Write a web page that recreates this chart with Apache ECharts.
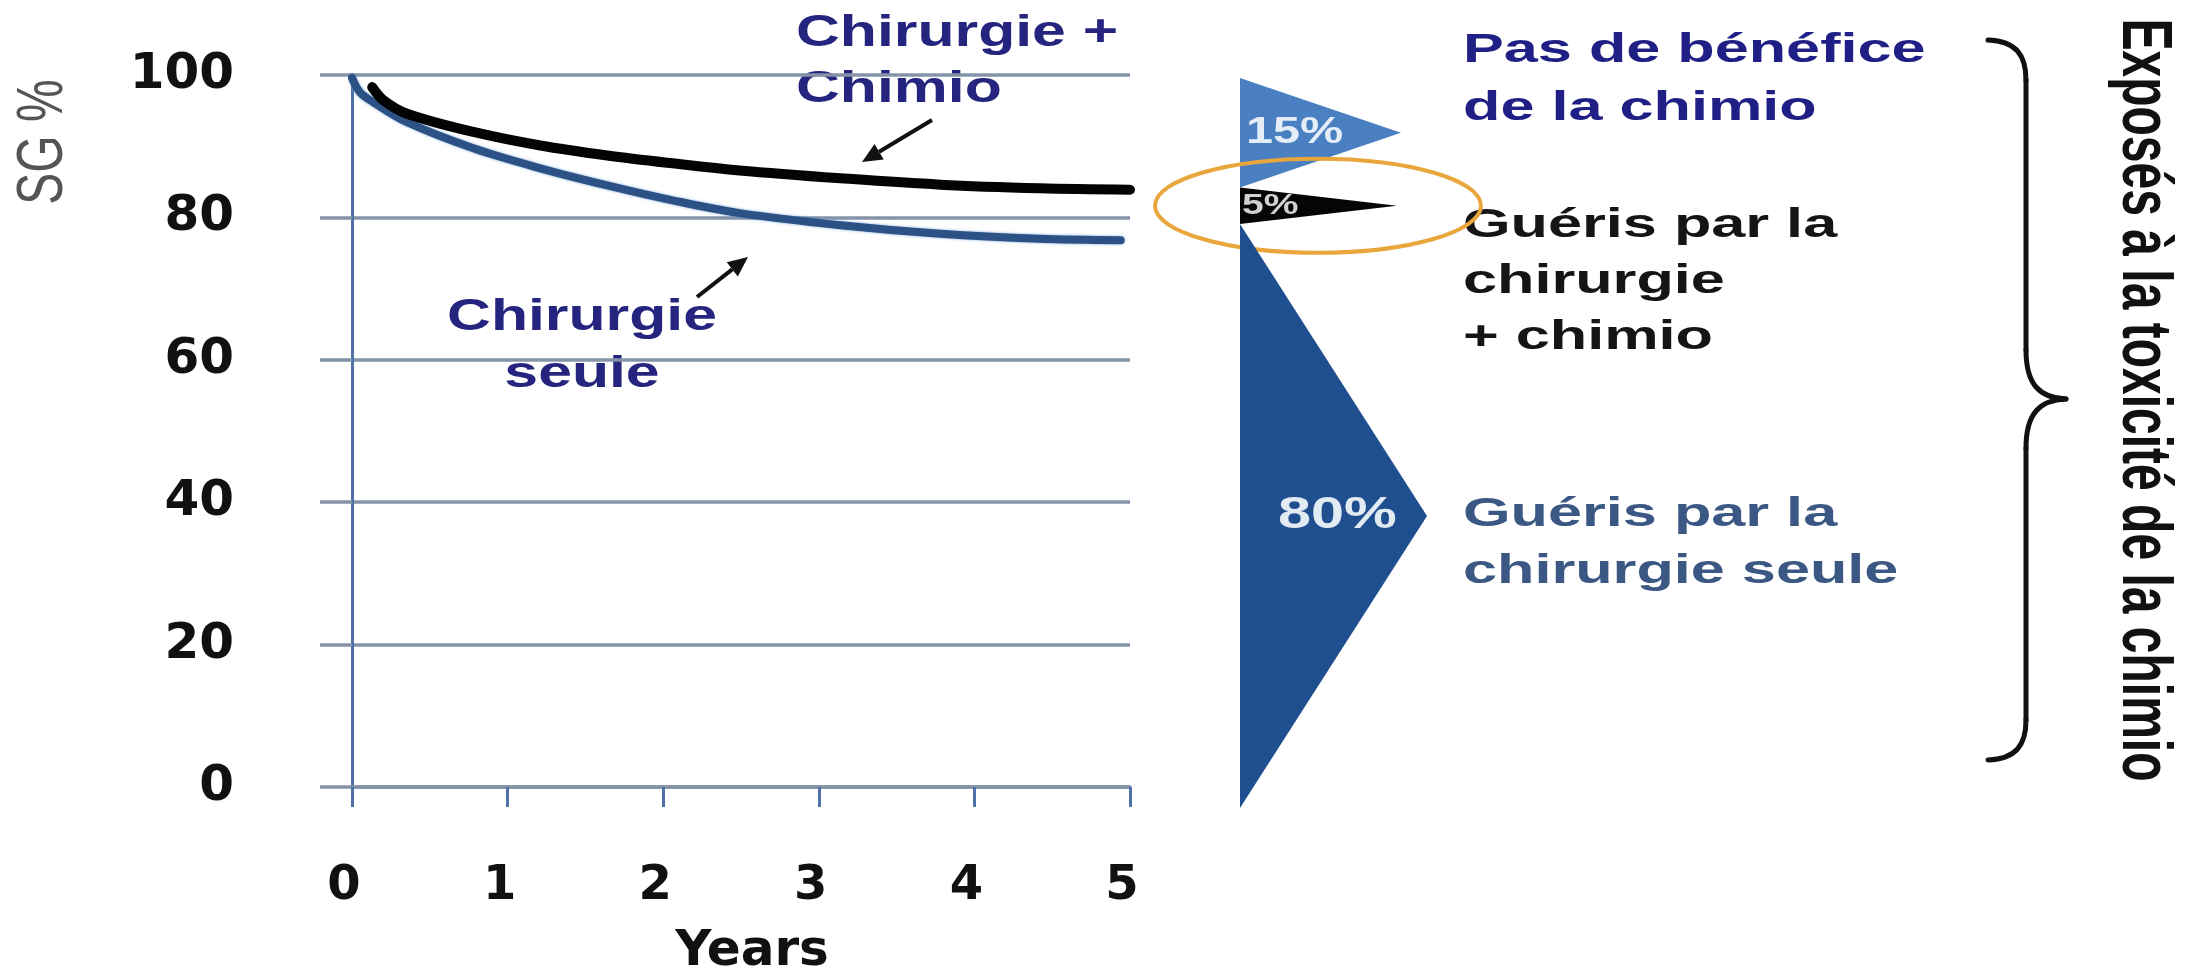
<!DOCTYPE html>
<html>
<head>
<meta charset="utf-8">
<script src="https://cdn.jsdelivr.net/npm/echarts@6/dist/echarts.min.js"></script>
<style>
  html, body { margin: 0; padding: 0; background: #fff; }
  #main { width: 2194px; height: 970px; }
</style>
</head>
<body>
<div id="main"></div>
<script>
var yearsChimio = [0.13, 0.2, 0.35, 0.78, 1.21, 1.64, 2.06, 2.49, 3.14, 3.78, 4.42, 5.0];
var sgChimio    = [98.3, 96.5, 94.6, 92.0, 90.1, 88.7, 87.6, 86.6, 85.5, 84.6, 84.1, 83.9];
var yearsSeule  = [0, 0.05, 0.135, 0.35, 0.78, 1.21, 1.64, 2.06, 2.49, 3.14, 3.78, 4.42, 4.94];
var sgSeule     = [99.6, 97.6, 96.2, 93.4, 89.7, 86.9, 84.5, 82.4, 80.6, 78.9, 77.7, 77.0, 76.8];
var sgTicks   = [0, 20, 40, 60, 80, 100];
var yearTicks = [0, 1, 2, 3, 4, 5];

// répartition des patients
var groups = ['Pas de bénéfice de la chimio', 'Guéris par la chirurgie + chimio', 'Guéris par la chirurgie seule'];
var shares = [15, 5, 80];
var highlighted = 1; // entouré en orange

var chart = echarts.init(document.getElementById('main'));

function pairs(xs, ys) {
  return xs.map(function (x, i) { return [x, ys[i]]; });
}

var shareData = [];
var acc = 0;
shares.forEach(function (v, i) {
  shareData.push([acc, acc + v, v, i]);
  acc += v;
});

var triColors = ['#4a80c2', '#050505', '#1f4f8e'];
var pctColors = ['#e4edf8', '#d0d0d0', '#e2ebf4'];
var pctSize = [36, 29, 44];
var pctDx = [6, 2, 38];

function txt(text, x, y, size, color, sx, align, weight) {
  return {
    type: 'text', x: x, y: y, scaleX: sx,
    style: {
      text: text, fill: color,
      font: (weight || 'bold') + ' ' + size + 'px "Liberation Sans", Arial, sans-serif',
      align: align || 'left', verticalAlign: 'middle',
      textAlign: align || 'left', textVerticalAlign: 'middle'
    }
  };
}

function arrow(x1, y1, x2, y2) {
  var dx = x2 - x1, dy = y2 - y1, L = Math.sqrt(dx * dx + dy * dy);
  var ux = dx / L, uy = dy / L, hl = 20, hw = 9;
  var bx = x2 - ux * hl, by = y2 - uy * hl;
  return [
    { type: 'line', shape: { x1: x1, y1: y1, x2: bx, y2: by }, style: { stroke: '#111', lineWidth: 4 } },
    { type: 'polygon', shape: { points: [[x2, y2], [bx - uy * hw, by + ux * hw], [bx + uy * hw, by - ux * hw]] }, style: { fill: '#111' } }
  ];
}

var braceStyle = { stroke: '#111', lineWidth: 5, fill: null, lineCap: 'round' };

var graphics = [
  // titre d'axe vertical
  { type: 'text', x: 44, y: 142, rotation: Math.PI / 2, scaleY: 1.35,
    style: { text: 'SG %', fill: '#555', font: '48px "Liberation Sans", Arial, sans-serif',
      align: 'center', verticalAlign: 'middle', textAlign: 'center', textVerticalAlign: 'middle' } },
  // annotations des courbes
  txt('Chirurgie +', 796, 34, 44, '#25257f', 1.38),
  txt('Chimio', 796, 90, 44, '#25257f', 1.38),
  txt('Chirurgie', 582, 318, 44, '#25257f', 1.38, 'center'),
  txt('seule', 582, 375, 44, '#25257f', 1.38, 'center'),
  // libellés des groupes
  txt('Pas de bénéfice', 1463, 51, 40, '#1f1f85', 1.53),
  txt('de la chimio', 1463, 109, 40, '#1f1f85', 1.53),
  txt('Guéris par la', 1463, 226, 40, '#151515', 1.53),
  txt('chirurgie', 1463, 282, 40, '#151515', 1.53),
  txt('+ chimio', 1463, 338, 40, '#151515', 1.53),
  txt('Guéris par la', 1463, 515, 40, '#3b5784', 1.53),
  txt('chirurgie seule', 1463, 572, 40, '#3b5784', 1.53),
  // accolade
  { type: 'bezierCurve', shape: { x1: 1988, y1: 40, cpx1: 2016, cpy1: 41, cpx2: 2026, cpy2: 55, x2: 2026, y2: 80 }, style: braceStyle },
  { type: 'line', shape: { x1: 2026, y1: 80, x2: 2026, y2: 350 }, style: braceStyle },
  { type: 'bezierCurve', shape: { x1: 2026, y1: 350, cpx1: 2026, cpy1: 385, cpx2: 2040, cpy2: 398, x2: 2066, y2: 399 }, style: braceStyle },
  { type: 'bezierCurve', shape: { x1: 2066, y1: 399, cpx1: 2040, cpy1: 400, cpx2: 2026, cpy2: 413, x2: 2026, y2: 448 }, style: braceStyle },
  { type: 'line', shape: { x1: 2026, y1: 448, x2: 2026, y2: 720 }, style: braceStyle },
  { type: 'bezierCurve', shape: { x1: 2026, y1: 720, cpx1: 2026, cpy1: 745, cpx2: 2016, cpy2: 759, x2: 1988, y2: 760 }, style: braceStyle },
  { type: 'text', x: 2142, y: 400, rotation: -Math.PI / 2, scaleY: 1.45,
    style: { text: 'Exposés à la toxicité de la chimio', fill: '#111', font: 'bold 48px "Liberation Sans", Arial, sans-serif',
      align: 'center', verticalAlign: 'middle', textAlign: 'center', textVerticalAlign: 'middle' } }
].concat(arrow(932, 120, 862, 162), arrow(697, 297, 748, 257));

var option = {
  backgroundColor: '#fff',
  animation: false,
  grid: [
    { left: 352, top: 75, width: 778, height: 712, outerBoundsMode: 'none' },
    { left: 1240, top: 78, width: 200, height: 730, outerBoundsMode: 'none' }
  ],
  xAxis: [
    {
      type: 'value', gridIndex: 0,
      min: yearTicks[0], max: yearTicks[yearTicks.length - 1], interval: yearTicks[1] - yearTicks[0],
      name: 'Years', nameLocation: 'middle', nameGap: 140,
      nameTextStyle: { fontFamily: 'DejaVu Sans', fontWeight: 'bold', fontSize: 50, color: '#111', padding: [0, 0, 0, 22] },
      axisLine: { show: true, lineStyle: { color: '#8593a8', width: 3.5 } },
      axisTick: { show: true, length: 20, lineStyle: { color: '#4e72a8', width: 3 } },
      axisLabel: { margin: 76, fontFamily: 'DejaVu Sans', fontWeight: 'bold', fontSize: 48, color: '#111', padding: [0, 16, 0, 0] },
      splitLine: { show: false }
    },
    { type: 'value', gridIndex: 1, min: 0, max: 1, show: false }
  ],
  yAxis: [
    {
      type: 'value', gridIndex: 0,
      min: sgTicks[0], max: sgTicks[sgTicks.length - 1], interval: sgTicks[1] - sgTicks[0],
      axisLine: { show: true, lineStyle: { color: '#4e72a8', width: 3 } },
      axisTick: { show: true, length: 32, lineStyle: { color: '#8593a8', width: 3.5 } },
      axisLabel: { margin: 118, fontFamily: 'DejaVu Sans', fontWeight: 'bold', fontSize: 50, color: '#111', padding: [22, 0, 0, 0] },
      splitLine: { show: true, lineStyle: { color: '#8593a8', width: 3.5 } }
    },
    { type: 'value', gridIndex: 1, min: 0, max: 100, inverse: true, show: false }
  ],
  series: [
    {
      name: 'Chirurgie seule', type: 'line', xAxisIndex: 0, yAxisIndex: 0,
      data: pairs(yearsSeule, sgSeule),
      smooth: 0.35, symbol: 'none', showSymbol: false,
      lineStyle: { color: '#2c5185', width: 8, cap: 'round', shadowColor: 'rgba(100,150,210,0.8)', shadowBlur: 3 },
      z: 3
    },
    {
      name: 'Chirurgie + Chimio', type: 'line', xAxisIndex: 0, yAxisIndex: 0,
      data: pairs(yearsChimio, sgChimio),
      smooth: 0.35, symbol: 'none', showSymbol: false,
      lineStyle: { color: '#030303', width: 10, cap: 'round' },
      z: 4
    },
    {
      name: 'Répartition', type: 'custom', xAxisIndex: 1, yAxisIndex: 1,
      data: shareData,
      renderItem: function (params, api) {
        var s = api.value(0), e = api.value(1), v = api.value(2), i = api.value(3);
        var p0 = api.coord([0, s]);
        var p1 = api.coord([0, e]);
        var mid = (p0[1] + p1[1]) / 2;
        var w = 155 + v * 0.4;
        var children = [
          { type: 'polygon', shape: { points: [[p0[0], p0[1]], [p0[0] + w, mid], [p0[0], p1[1]]] }, style: { fill: triColors[i] } },
          { type: 'text', x: p0[0] + pctDx[i], y: mid, scaleX: 1.35,
            style: { text: v + '%', fill: pctColors[i], font: 'bold ' + pctSize[i] + 'px "Liberation Sans", Arial, sans-serif',
              align: 'left', verticalAlign: 'middle' } }
        ];
        if (i === highlighted) {
          children.push({ type: 'ellipse', shape: { cx: p0[0] + 78, cy: mid, rx: 163, ry: 47 },
            style: { fill: null, stroke: '#e9a63c', lineWidth: 4 } });
        }
        return { type: 'group', children: children };
      },
      z: 2
    }
  ],
  graphic: graphics
};

chart.setOption(option);
</script>
</body>
</html>
